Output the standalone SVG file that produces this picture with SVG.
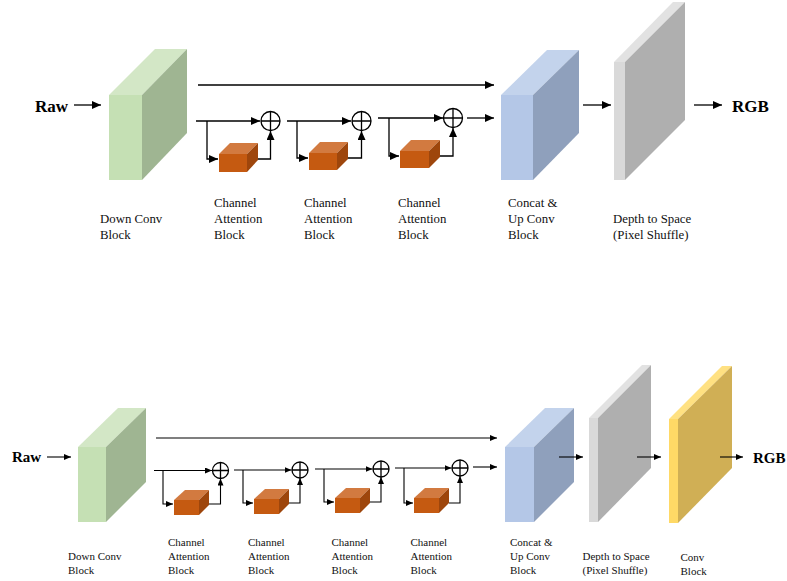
<svg xmlns="http://www.w3.org/2000/svg" width="787" height="581" viewBox="0 0 787 581">
<defs>
<marker id="ah" markerUnits="userSpaceOnUse" markerWidth="9" markerHeight="8" refX="9" refY="4" orient="auto"><path d="M0,0 L9,4 L0,8 z" fill="#000"/></marker>
<marker id="as" markerUnits="userSpaceOnUse" markerWidth="7" markerHeight="6" refX="7" refY="3" orient="auto"><path d="M0,0 L7,3 L0,6 z" fill="#000"/></marker>
<style>
.ln{fill:none;stroke:#000;stroke-width:1.3}
.lt{fill:none;stroke:#000;stroke-width:1.3;marker-end:url(#ah)}
.lb{fill:none;stroke:#000;stroke-width:1.1;marker-end:url(#as)}
.plus{fill:#fff;stroke:#000;stroke-width:1.3}
.gF{fill:#C5E0B4}.gT{fill:#D3E7C6}.gS{fill:#9FB592}
.bF{fill:#B4C7E7}.bT{fill:#C3D3EC}.bS{fill:#8FA0BC}
.oF{fill:#C55A11}.oT{fill:#D27A40}.oS{fill:#9E460C}
.yF{fill:#FFD966}.yT{fill:#FFE182}.yS{fill:#D0AF55}
.rF{fill:#D9D9D9}.rT{fill:#E2E2E2}.rS{fill:#AFAFAF}
.t1{font-family:"Liberation Serif","Times New Roman",serif;font-size:12.8px;fill:#111}
.t2{font-family:"Liberation Serif","Times New Roman",serif;font-size:11px;fill:#111}
.big{font-family:"Liberation Serif","Times New Roman",serif;font-weight:bold;fill:#000}
</style>
</defs>

<!-- ===== TOP DIAGRAM ===== -->
<g id="top-raw"><text class="big" x="35" y="111.5" font-size="17">Raw</text></g>
<g id="top-downconv">
<polygon class="gT" points="109,95 155,49 187,49 142,95"/>
<polygon class="gS" points="142,95 187,49 187,133 142,180"/>
<rect class="gF" x="109" y="95" width="33" height="85"/>
<text class="t1" x="100" y="223">Down Conv</text>
<text class="t1" x="100" y="239">Block</text>
</g>
<g id="top-ca1">
<polygon class="oT" points="219,154 230,143 258,143 247,154"/>
<polygon class="oS" points="247,154 258,143 258,160 247,172"/>
<rect class="oF" x="219" y="154" width="28" height="18"/>
<text class="t1" x="214" y="207">Channel</text>
<text class="t1" x="214" y="223">Attention</text>
<text class="t1" x="214" y="239">Block</text>
</g>
<g id="top-ca2">
<polygon class="oT" points="309,153 320,142 348,142 337,153"/>
<polygon class="oS" points="337,153 348,142 348,159 337,170"/>
<rect class="oF" x="309" y="153" width="28" height="17"/>
<text class="t1" x="304" y="207">Channel</text>
<text class="t1" x="304" y="223">Attention</text>
<text class="t1" x="304" y="239">Block</text>
</g>
<g id="top-ca3">
<polygon class="oT" points="400,151 411,140 440,140 429,151"/>
<polygon class="oS" points="429,151 440,140 440,157 429,168"/>
<rect class="oF" x="400" y="151" width="29" height="17"/>
<text class="t1" x="398" y="207">Channel</text>
<text class="t1" x="398" y="223">Attention</text>
<text class="t1" x="398" y="239">Block</text>
</g>
<g id="top-upconv">
<polygon class="bT" points="501,95 547,50 579,50 533,95"/>
<polygon class="bS" points="533,95 579,50 579,133 533,180"/>
<rect class="bF" x="501" y="95" width="32" height="85"/>
<text class="t1" x="508" y="207">Concat &amp;</text>
<text class="t1" x="508" y="223">Up Conv</text>
<text class="t1" x="508" y="239">Block</text>
</g>
<g id="top-d2s">
<polygon class="rT" points="614,62 673,2 685,2 625,62"/>
<polygon class="rS" points="625,62 685,2 685,120 625,180"/>
<rect class="rF" x="614" y="62" width="11" height="118"/>
<text class="t1" x="613" y="223">Depth to Space</text>
<text class="t1" x="613" y="239">(Pixel Shuffle)</text>
</g>
<g id="top-rgb"><text class="big" x="732" y="111.5" font-size="17">RGB</text></g>

<g id="top-connectors">
<path class="lt" d="M74,105 H101"/>
<path class="lt" d="M198,85 H494"/>
<path class="lt" d="M196,121 H260"/>
<path class="lt" d="M207,121 V159 H218"/>
<path class="lt" d="M258,159 H270.5 V131"/>
<path class="lt" d="M287,121 H351"/>
<path class="lt" d="M297,121 V158 H308"/>
<path class="lt" d="M348,158 H361.5 V131"/>
<path class="lt" d="M378,118 H443"/>
<path class="lt" d="M389,118 V156 H399"/>
<path class="lt" d="M440,156 H453 V128"/>
<path class="lt" d="M467,118 H494"/>
<path class="lt" d="M583,105 H611"/>
<path class="lt" d="M694,105 H722"/>
</g>
<g id="top-sums">
<g id="top-sum1"><circle class="plus" cx="270.5" cy="121" r="9.5"/><path class="ln" d="M261,121 H280 M270.5,111.5 V130.5"/></g>
<g id="top-sum2"><circle class="plus" cx="361.5" cy="121" r="9.5"/><path class="ln" d="M352,121 H371 M361.5,111.5 V130.5"/></g>
<g id="top-sum3"><circle class="plus" cx="453" cy="118" r="9.5"/><path class="ln" d="M443.5,118 H462.5 M453,108.5 V127.5"/></g>
</g>

<!-- ===== BOTTOM DIAGRAM ===== -->
<g id="bot-raw"><text class="big" x="12" y="462" font-size="15">Raw</text></g>
<g id="bot-downconv">
<polygon class="gT" points="78,447 118,408 146,408 106,447"/>
<polygon class="gS" points="106,447 146,408 146,482 106,522"/>
<rect class="gF" x="78" y="447" width="28" height="75"/>
<text class="t2" x="68" y="560">Down Conv</text>
<text class="t2" x="68" y="574">Block</text>
</g>
<g id="bot-ca1">
<polygon class="oT" points="174,500 185,490 209,490 199,500"/>
<polygon class="oS" points="199,500 209,490 209,505 199,515"/>
<rect class="oF" x="174" y="500" width="25" height="15"/>
<text class="t2" x="168" y="546">Channel</text>
<text class="t2" x="168" y="560">Attention</text>
<text class="t2" x="168" y="574">Block</text>
</g>
<g id="bot-ca2">
<polygon class="oT" points="254,499 265,489 289,489 279,499"/>
<polygon class="oS" points="279,499 289,489 289,504 279,514"/>
<rect class="oF" x="254" y="499" width="25" height="15"/>
<text class="t2" x="248" y="546">Channel</text>
<text class="t2" x="248" y="560">Attention</text>
<text class="t2" x="248" y="574">Block</text>
</g>
<g id="bot-ca3">
<polygon class="oT" points="335,498 346,488 370,488 360,498"/>
<polygon class="oS" points="360,498 370,488 370,503 360,513"/>
<rect class="oF" x="335" y="498" width="25" height="15"/>
<text class="t2" x="331.5" y="546">Channel</text>
<text class="t2" x="331.5" y="560">Attention</text>
<text class="t2" x="331.5" y="574">Block</text>
</g>
<g id="bot-ca4">
<polygon class="oT" points="414,498 425,488 449,488 439,498"/>
<polygon class="oS" points="439,498 449,488 449,503 439,513"/>
<rect class="oF" x="414" y="498" width="25" height="15"/>
<text class="t2" x="410.5" y="546">Channel</text>
<text class="t2" x="410.5" y="560">Attention</text>
<text class="t2" x="410.5" y="574">Block</text>
</g>
<g id="bot-upconv">
<polygon class="bT" points="505,447 545,408 574,408 534,447"/>
<polygon class="bS" points="534,447 574,408 574,482 534,522"/>
<rect class="bF" x="505" y="447" width="29" height="75"/>
<text class="t2" x="510" y="546">Concat &amp;</text>
<text class="t2" x="510" y="560">Up Conv</text>
<text class="t2" x="510" y="574">Block</text>
</g>
<g id="bot-d2s">
<polygon class="rT" points="589,418 642,365 651,365 598,418"/>
<polygon class="rS" points="598,418 651,365 651,468 598,522"/>
<rect class="rF" x="589" y="418" width="9" height="104"/>
<text class="t2" x="582.5" y="560">Depth to Space</text>
<text class="t2" x="582.5" y="574">(Pixel Shuffle)</text>
</g>
<g id="bot-conv">
<polygon class="yT" points="669,419 722,366 732,366 678,419"/>
<polygon class="yS" points="678,419 732,366 732,468 678,523"/>
<rect class="yF" x="669" y="419" width="9" height="104"/>
<text class="t2" x="680.5" y="561">Conv</text>
<text class="t2" x="680.5" y="575">Block</text>
</g>
<g id="bot-rgb"><text class="big" x="753" y="463" font-size="15">RGB</text></g>

<g id="bot-connectors">
<path class="lb" d="M47,457 H71"/>
<path class="lb" d="M156,438 H497"/>
<path class="lb" d="M154,470.5 H212"/>
<path class="lb" d="M163,470.5 V504 H173"/>
<path class="lb" d="M209,504 H220.5 V478.5"/>
<path class="lb" d="M234,470 H291.5"/>
<path class="lb" d="M243,470 V503 H253"/>
<path class="lb" d="M289,503 H300 V478"/>
<path class="lb" d="M315,469 H372.5"/>
<path class="lb" d="M324,469 V502 H334"/>
<path class="lb" d="M370,502 H381 V477"/>
<path class="lb" d="M395,468 H451.5"/>
<path class="lb" d="M404,468 V503 H413"/>
<path class="lb" d="M449,503 H460 V476"/>
<path class="lb" d="M473,467 H497"/>
<path class="lb" d="M559,457 H583"/>
<path class="lb" d="M637,457 H661"/>
<path class="lb" d="M720,457 H743"/>
</g>
<g id="bot-sums">
<g id="bot-sum1"><circle class="plus" cx="220.5" cy="470.5" r="8"/><path class="ln" d="M212.5,470.5 H228.5 M220.5,462.5 V478.5"/></g>
<g id="bot-sum2"><circle class="plus" cx="300" cy="470" r="8"/><path class="ln" d="M292,470 H308 M300,462 V478"/></g>
<g id="bot-sum3"><circle class="plus" cx="381" cy="469" r="8"/><path class="ln" d="M373,469 H389 M381,461 V477"/></g>
<g id="bot-sum4"><circle class="plus" cx="460" cy="468" r="8"/><path class="ln" d="M452,468 H468 M460,460 V476"/></g>
</g>
</svg>
